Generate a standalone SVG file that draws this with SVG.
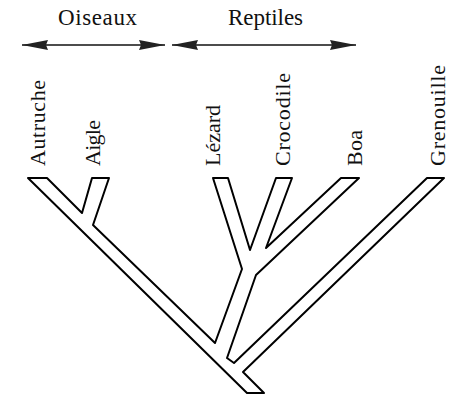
<svg xmlns="http://www.w3.org/2000/svg" width="450" height="396" viewBox="0 0 450 396">
<style>
.lbl{font-family:"Liberation Serif","DejaVu Serif",serif;font-size:22px;fill:#111}
.top{font-size:23px}
.arr{stroke:#111;stroke-width:1.6;fill:none}
.tree{fill:#fff;stroke:#000;stroke-width:2;stroke-linejoin:round}
</style>
<defs>
<marker id="ah" markerUnits="userSpaceOnUse" markerWidth="28" markerHeight="12" refX="26" refY="6" orient="auto-start-reverse" viewBox="0 0 28 12">
<path d="M0,1 L26,6 L0,11 L2,6 Z" fill="#222"/>
</marker>
</defs>
<rect width="450" height="396" fill="#fff"/>
<g id="group-oiseaux">
<text class="lbl top" x="58" y="25" textLength="79" lengthAdjust="spacing">Oiseaux</text>
<line class="arr" x1="22" y1="45" x2="165" y2="45" marker-start="url(#ah)" marker-end="url(#ah)"/>
</g>
<g id="group-reptiles">
<text class="lbl top" x="228" y="25" textLength="75" lengthAdjust="spacing">Reptiles</text>
<line class="arr" x1="172" y1="45" x2="356" y2="45" marker-start="url(#ah)" marker-end="url(#ah)"/>
</g>
<g id="connectors">
<polygon class="tree" points="28,178 47,178 82,213 92,178 109,178 93,225 215,343 242,269 213,178 228,178 250,250 276,178 292,178 266,248 341,178 359,178 256,275 227,358 234,363 427,178 444,178 243,372 264,393 247,393"/>
</g>
<g id="autruche"><text class="lbl" transform="translate(45,166) rotate(-90)" textLength="86" lengthAdjust="spacing">Autruche</text></g>
<g id="aigle"><text class="lbl" transform="translate(100,166) rotate(-90)" textLength="46" lengthAdjust="spacing">Aigle</text></g>
<g id="lezard"><text class="lbl" transform="translate(220,166) rotate(-90)" textLength="61" lengthAdjust="spacing">Lézard</text></g>
<g id="crocodile"><text class="lbl" transform="translate(290,166) rotate(-90)" textLength="93" lengthAdjust="spacing">Crocodile</text></g>
<g id="boa"><text class="lbl" transform="translate(362,166) rotate(-90)" textLength="36" lengthAdjust="spacing">Boa</text></g>
<g id="grenouille"><text class="lbl" transform="translate(445,166) rotate(-90)" textLength="101" lengthAdjust="spacing">Grenouille</text></g>
</svg>
